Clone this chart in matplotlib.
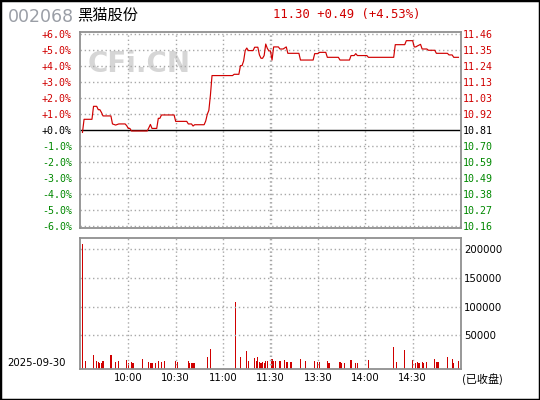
import matplotlib
matplotlib.use("Agg")
import matplotlib.pyplot as plt
from matplotlib.patches import Rectangle

# 数据：分时走势（交易分钟序号 0..240，涨跌幅 %）
prev_close = 10.81
last_price = 11.30
code = "002068"
name = "黑猫股份"
trade_date = "2025-09-30"

# 上午前段
line_minutes_a = [1, 2, 7, 8, 10, 11, 12, 13, 14, 19, 20, 22, 24, 28, 29, 30, 31, 32, 42, 43,
                  44, 45, 48, 49, 50, 51, 59, 60, 67, 68, 70, 71, 72, 78]
line_pct_a = [-0.15, 0.67, 0.67, 1.48, 1.48, 1.27, 1.27, 1.10, 0.88, 0.88, 0.38, 0.31, 0.38,
              0.38, 0.27, 0.10, 0.10, -0.06, -0.06, 0.14, 0.35, 0.10, 0.10, 0.73, 0.73, 0.94,
              0.94, 0.54, 0.54, 0.38, 0.38, 0.25, 0.33, 0.33]
# 拉升及午盘前后
line_minutes_b = [79, 80, 81, 82, 83, 96, 97, 100, 101, 102, 103, 104, 105, 106, 109, 110, 112,
                  113, 114, 115, 116, 117, 118, 119, 120, 121, 122, 125, 126, 128, 130, 131,
                  138, 139, 147, 148, 150, 151, 155]
line_pct_b = [0.56, 0.98, 1.23, 2.19, 3.40, 3.40, 3.48, 3.48, 4.02, 4.02, 4.31, 4.96, 5.12,
              4.96, 4.96, 5.17, 5.17, 4.69, 4.48, 4.48, 4.65, 5.37, 5.10, 4.94, 4.94, 4.37,
              5.19, 5.19, 5.06, 5.06, 5.19, 4.79, 4.79, 4.37, 4.37, 4.77, 4.77, 4.85, 4.85]
# 下午后段
line_minutes_c = [156, 163, 164, 170, 171, 173, 174, 175, 181, 182, 198, 199, 205, 206, 210,
                  211, 212, 213, 215, 216, 219, 220, 224, 225, 232, 233, 235, 236, 239]
line_pct_c = [4.54, 4.54, 4.37, 4.37, 4.65, 4.65, 4.77, 4.65, 4.65, 4.54, 4.54, 5.33, 5.33,
              5.58, 5.58, 5.19, 5.19, 5.25, 5.35, 5.06, 5.06, 4.98, 4.98, 4.79, 4.79, 4.69,
              4.69, 4.54, 4.54]

# 成交量（手）
vol_minutes = [1, 3, 8, 10, 11, 12, 13, 14, 19, 22,
               24, 29, 30, 32, 33, 39, 43, 44, 45, 47,
               49, 51, 53, 60, 61, 68, 69, 70, 71, 72,
               80, 82, 98, 101, 105, 106, 110, 111, 112, 113,
               114, 115, 116, 117, 118, 121, 122, 123, 126, 129,
               130, 131, 133, 139, 142, 148, 150, 151, 156, 157,
               164, 165, 167, 171, 174, 175, 182, 198, 200, 205,
               210, 212, 213, 214, 216, 217, 219, 224, 225, 226,
               232, 235, 236, 239]
vol_values = [208900, 5400, 15800, 5400, 3700, 1900, 1900, 5400, 15800, 3700,
              5400, 7100, 1900, 3700, 1900, 8900, 3700, 1900, 1900, 1900,
              5400, 3700, 5400, 5400, 3700, 5400, 1900, 1900, 1900, 1900,
              12300, 26300, 108000, 12300, 22800, 5400, 10600, 5400, 12300, 3700,
              1900, 3700, 1900, 5400, 5400, 8900, 5400, 5400, 5400, 7100,
              3700, 3700, 3700, 8900, 5400, 5400, 3700, 3700, 5400, 1900,
              3700, 1900, 1900, 7100, 1900, 1900, 7100, 29700, 3700, 24500,
              7100, 1900, 3700, 1900, 3700, 1900, 3700, 8900, 3700, 3700,
              12300, 8900, 1900, 5400]

time_ticks = [30, 60, 90, 120, 150, 180, 210]
time_labels = ["10:00", "10:30", "11:00", "11:30", "13:30", "14:00", "14:30"]
pct_ticks = [6, 5, 4, 3, 2, 1, 0, -1, -2, -3, -4, -5, -6]
vol_ticks = [50000, 100000, 150000, 200000]
vol_floor = -9000

red = "#d00000"
green = "#008800"
grid_kw = dict(color="#a8a8a8", linestyle=(0, (1, 2)), linewidth=1.0)
mono = "DejaVu Sans Mono"

line_minutes = line_minutes_a + line_minutes_b + line_minutes_c
line_pct = line_pct_a + line_pct_b + line_pct_c

fig = plt.figure(figsize=(5.4, 4.0), dpi=100)
fig.patch.set_facecolor("white")
fig.patches.append(Rectangle((0, 0), 1, 1, transform=fig.transFigure, fill=False,
                             edgecolor="black", linewidth=2.5))

ax = fig.add_axes([0.1487, 0.43075, 0.7044, 0.49])
axv = fig.add_axes([0.1487, 0.07675, 0.7044, 0.3275])

for a in (ax, axv):
    a.set_xlim(-0.38, 240.4)
    for s in a.spines.values():
        s.set_color("#909090")
        s.set_linewidth(1.3)
    for t in time_ticks:
        if t == 120:
            a.axvline(119.6, **grid_kw)
            a.axvline(120.4, **grid_kw)
        else:
            a.axvline(t, **grid_kw)

# 价格面板
ax.set_ylim(-6.1, 6.14)
for p in pct_ticks:
    if p != 0:
        ax.axhline(p, **grid_kw)
ax.axhline(0, color="black", linewidth=1.0)
ax.plot(line_minutes, line_pct, color=red, linewidth=0.85)
ax.text(37, 4.1, "CFi.CN", fontsize=20, fontweight="bold", color="#d6d6d6",
        ha="center", va="center", family="DejaVu Sans", zorder=0)

ax.set_xticks([])
ax.set_yticks(pct_ticks)
ax.set_yticklabels([("+%.1f%%" % p) if p >= 0 else ("%.1f%%" % p) for p in pct_ticks],
                   family=mono, fontsize=7.2)
ax.tick_params(axis="y", length=0, pad=6)
for lab, p in zip(ax.get_yticklabels(), pct_ticks):
    lab.set_color(red if p > 0 else (green if p < 0 else "black"))

axr = ax.twinx()
axr.set_ylim(ax.get_ylim())
axr.set_yticks(pct_ticks)
axr.set_yticklabels(["%.2f" % (prev_close * (1 + p / 100)) for p in pct_ticks],
                    family=mono, fontsize=7.2)
axr.tick_params(axis="y", length=0, pad=1.5)
for lab, p in zip(axr.get_yticklabels(), pct_ticks):
    lab.set_color(red if p > 0 else (green if p < 0 else "black"))
for s in axr.spines.values():
    s.set_visible(False)

# 成交量面板
axv.set_ylim(vol_floor, 218800)
for v in vol_ticks:
    axv.axhline(v, **grid_kw)
axv.bar(vol_minutes, [v - vol_floor for v in vol_values], bottom=vol_floor,
        width=0.75, color=red, linewidth=0)
axv.yaxis.tick_right()
axv.set_yticks(vol_ticks)
axv.set_yticklabels([str(v) for v in vol_ticks], fontsize=7.3, family="DejaVu Sans")
axv.tick_params(axis="y", length=0, pad=2.5)
axv.set_xticks(time_ticks)
axv.set_xticklabels(time_labels, fontsize=7.3, family="DejaVu Sans")
axv.tick_params(axis="x", length=0, pad=3)

# 标题与注释
chg = last_price - prev_close
fig.text(8 / 540, 1 - 16.5 / 400, code, fontsize=12.5, color="#9a9ea6",
         ha="left", va="center", family="DejaVu Sans")
fig.text(77 / 540, 1 - 14.5 / 400, name, fontsize=11, color="black",
         ha="left", va="center", family=["Noto Sans CJK SC", "DejaVu Sans"])
fig.text(273 / 540, 1 - 14.5 / 400,
         "%.2f +%.2f (+%.2f%%)" % (last_price, chg, chg / prev_close * 100),
         fontsize=8.8, color=red, ha="left", va="center", family=mono)
fig.text(7 / 540, 1 - 362.5 / 400, trade_date, fontsize=7.3, color="black",
         ha="left", va="center", family="DejaVu Sans")
fig.text(462 / 540, 1 - 379.5 / 400, "(已收盘)", fontsize=8, color="black",
         ha="left", va="center", family=["Noto Sans CJK SC", "DejaVu Sans"])

fig.savefig("out.png", dpi=100)
